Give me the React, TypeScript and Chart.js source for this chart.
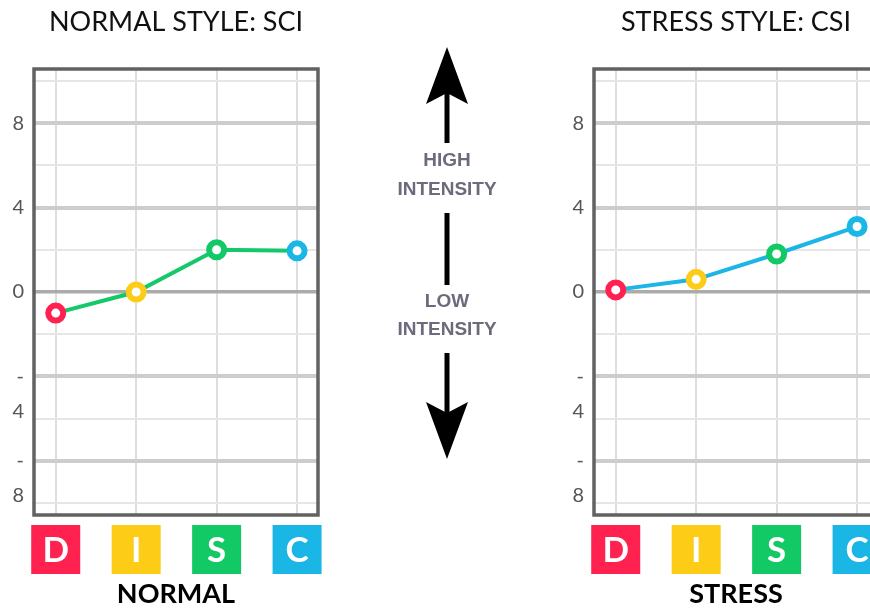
import React, { useEffect, useRef } from 'react';
import { Chart, registerables } from 'chart.js';

Chart.register(...registerables);

// ---- data ----
const categories = ['D', 'I', 'S', 'C'];
const categoryColors = ['#ff2150', '#fccc16', '#13c966', '#1ab7e6'];
const normalValues = [-1, 0, 2, 1.95];
const stressValues = [0.1, 0.6, 1.8, 3.1];
const yTickValues = [-10, -8, -6, -4, -2, 0, 2, 4, 6, 8, 10];
const yTickLabels: (string | string[])[] = ['', ['', '-', '8'], '', ['', '-', '4'], '', '0', '', '4', '', '8', ''];
const normalTitle = 'NORMAL STYLE: SCI';
const normalLabel = 'NORMAL';
const stressTitle = 'STRESS STYLE: CSI';
const stressLabel = 'STRESS';

const Y_LIMIT = 10.56;
const X_MIN = -0.27;
const X_MAX = 3.26;

const discPlugin = {
  id: 'discPlugin',
  afterDraw(chart: any) {
    const { ctx, chartArea } = chart;
    const xs = chart.scales.x;
    ctx.save();
    // frame
    ctx.strokeStyle = '#626262';
    ctx.lineWidth = 3.5;
    ctx.strokeRect(chartArea.left, chartArea.top, chartArea.right - chartArea.left, chartArea.bottom - chartArea.top);
    // DISC boxes
    const top = chartArea.bottom + 10;
    const size = 49;
    categories.forEach((c, i) => {
      const cx = xs.getPixelForValue(i);
      ctx.fillStyle = categoryColors[i];
      ctx.fillRect(cx - size / 2, top, size, size);
      ctx.fillStyle = '#ffffff';
      ctx.font = 'bold 35px Lato';
      ctx.textAlign = 'center';
      ctx.textBaseline = 'middle';
      ctx.fillText(c, cx, top + size / 2 + 1);
    });
    ctx.restore();
  },
};

function makeConfig(title: string, label: string, values: number[], lineColor: string): any {
  return {
    type: 'line',
    data: {
      datasets: [
        {
          data: values.map((v, i) => ({ x: i, y: v })),
          borderColor: lineColor,
          borderWidth: 4,
          pointRadius: 7.5,
          pointHoverRadius: 7.5,
          pointBorderWidth: 6,
          pointBackgroundColor: '#ffffff',
          pointBorderColor: categoryColors,
          tension: 0,
          fill: false,
          yAxisID: 'y',
        },
      ],
    },
    options: {
      responsive: false,
      animation: false,
      events: [],
      layout: { padding: { top: 0, left: 0, right: 0, bottom: 0 } },
      plugins: {
        legend: { display: false },
        tooltip: { enabled: false },
        title: {
          display: true,
          text: title,
          color: '#111111',
          font: { family: 'Lato', size: 27, weight: 'normal', lineHeight: 1.2 },
          padding: { top: 6.5, bottom: 30.1 },
        },
      },
      scales: {
        x: {
          type: 'linear',
          min: X_MIN,
          max: X_MAX,
          afterBuildTicks: (scale: any) => {
            scale.ticks = categories.map((_, i) => ({ value: i }));
          },
          afterFit: (scale: any) => {
            scale.height = 94;
          },
          ticks: { display: false, autoSkip: false },
          border: { display: false },
          grid: { color: '#dedede', lineWidth: 2, drawTicks: false },
          title: {
            display: true,
            text: label,
            color: '#000000',
            font: { family: 'Lato', size: 27, weight: 'bold', lineHeight: 1 },
            padding: { top: 0, bottom: 1 },
          },
        },
        y: {
          type: 'linear',
          position: 'left',
          min: -Y_LIMIT,
          max: Y_LIMIT,
          afterBuildTicks: (scale: any) => {
            scale.ticks = yTickValues.map((v) => ({ value: v }));
          },
          afterFit: (scale: any) => {
            scale.width = 34;
          },
          border: { display: false },
          ticks: {
            autoSkip: false,
            color: '#555555',
            padding: 10,
            font: { family: 'Lato', size: 20, lineHeight: 35 / 20 },
            callback: (value: number) => {
              const idx = yTickValues.indexOf(value);
              return idx >= 0 ? yTickLabels[idx] : '';
            },
          },
          grid: {
            drawTicks: false,
            color: (ctx: any) => {
              const v = ctx.tick ? ctx.tick.value : 1;
              if (v === 0) return '#ababab';
              if (v % 4 === 0) return '#cdcdcd';
              return '#e6e6e6';
            },
            lineWidth: (ctx: any) => {
              const v = ctx.tick ? ctx.tick.value : 1;
              if (v === 0) return 3.5;
              if (v % 4 === 0) return 4;
              return 2;
            },
          },
        },
        yRight: {
          type: 'linear',
          position: 'right',
          display: true,
          min: -Y_LIMIT,
          max: Y_LIMIT,
          afterFit: (scale: any) => {
            scale.width = 34;
          },
          border: { display: false },
          ticks: { display: false },
          grid: { display: false, drawOnChartArea: false, drawTicks: false },
        },
      },
    },
    plugins: [discPlugin],
  };
}

function DiscChart(props: { left: number; title: string; label: string; values: number[]; lineColor: string }) {
  const ref = useRef<HTMLCanvasElement | null>(null);
  useEffect(() => {
    if (!ref.current) return;
    const chart = new Chart(ref.current, makeConfig(props.title, props.label, props.values, props.lineColor));
    return () => chart.destroy();
  }, []);
  return (
    <canvas
      ref={ref}
      width={352}
      height={609}
      style={{ position: 'absolute', left: props.left, top: 0, width: 352, height: 609 }}
    />
  );
}

export default function App() {
  const textStyle: any = {
    fontFamily: '"Liberation Sans", Arial, sans-serif',
    fontWeight: 'bold',
    fontSize: 19,
    fill: '#6b6b7b',
  };
  return (
    <div
      style={{
        position: 'fixed',
        left: 0,
        top: 0,
        width: 870,
        height: 609,
        overflow: 'hidden',
        background: '#ffffff',
      }}
    >
      <DiscChart left={0} title={normalTitle} label={normalLabel} values={normalValues} lineColor="#15c96a" />
      <DiscChart left={560} title={stressTitle} label={stressLabel} values={stressValues} lineColor="#1cb5e5" />
      <svg width={870} height={609} style={{ position: 'absolute', left: 0, top: 0, pointerEvents: 'none' }}>
        <polygon points="447,47 468,104 447,93 426,104" fill="#000" />
        <rect x={444.5} y={92} width={5} height={51} fill="#000" />
        <text x={447} y={159} textAnchor="middle" dominantBaseline="central" style={textStyle}>HIGH</text>
        <text x={447} y={188} textAnchor="middle" dominantBaseline="central" style={textStyle}>INTENSITY</text>
        <rect x={444.5} y={213} width={5} height={72} fill="#000" />
        <text x={447} y={300} textAnchor="middle" dominantBaseline="central" style={textStyle}>LOW</text>
        <text x={447} y={328} textAnchor="middle" dominantBaseline="central" style={textStyle}>INTENSITY</text>
        <rect x={444.5} y={353} width={5} height={60} fill="#000" />
        <polygon points="426,402 447,413 468,402 447,459" fill="#000" />
      </svg>
    </div>
  );
}
